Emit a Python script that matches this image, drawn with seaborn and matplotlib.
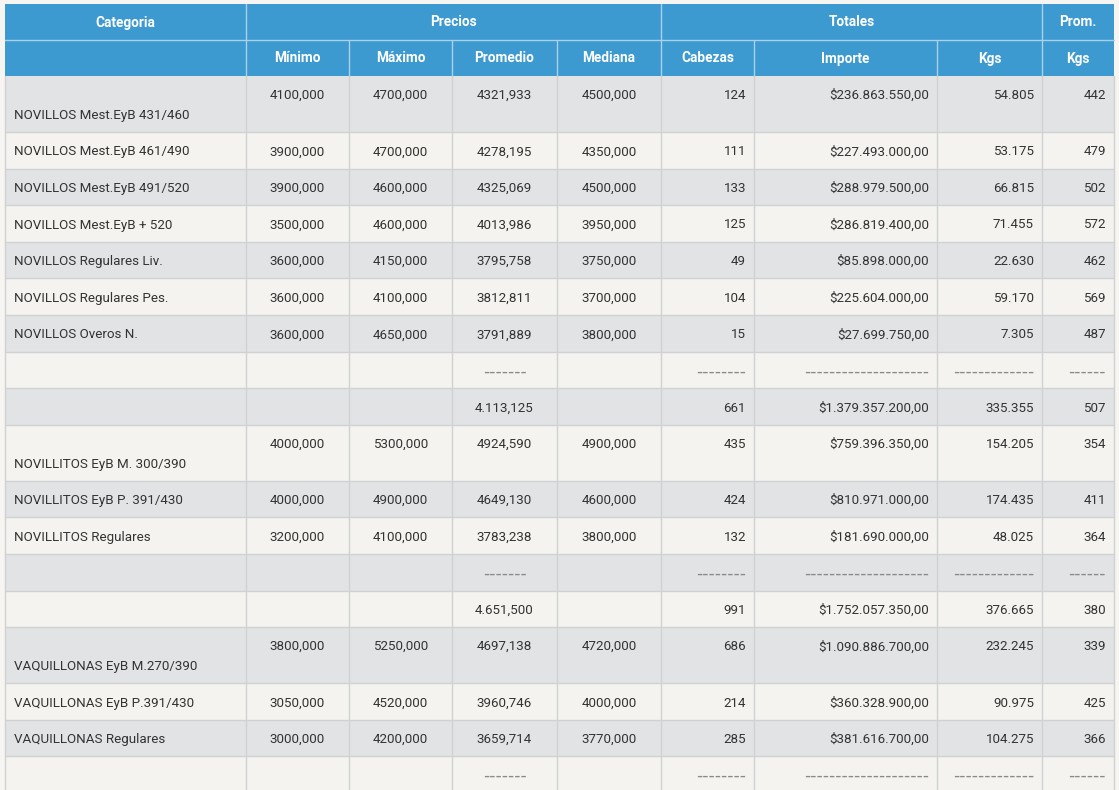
import numpy as np
import pandas as pd
import seaborn as sns
import matplotlib.pyplot as plt

# table data, one list per column
categoria = ["NOVILLOS Mest.EyB 431/460", "NOVILLOS Mest.EyB 461/490", "NOVILLOS Mest.EyB 491/520",
             "NOVILLOS Mest.EyB + 520", "NOVILLOS Regulares Liv.", "NOVILLOS Regulares Pes.",
             "NOVILLOS Overos N.", "", "", "NOVILLITOS EyB M. 300/390", "NOVILLITOS EyB P. 391/430",
             "NOVILLITOS Regulares", "", "", "VAQUILLONAS EyB M.270/390", "VAQUILLONAS EyB P.391/430",
             "VAQUILLONAS Regulares", ""]
minimo = ["4100,000", "3900,000", "3900,000", "3500,000", "3600,000", "3600,000", "3600,000", "", "",
          "4000,000", "4000,000", "3200,000", "", "", "3800,000", "3050,000", "3000,000", ""]
maximo = ["4700,000", "4700,000", "4600,000", "4600,000", "4150,000", "4100,000", "4650,000", "", "",
          "5300,000", "4900,000", "4100,000", "", "", "5250,000", "4520,000", "4200,000", ""]
promedio = ["4321,933", "4278,195", "4325,069", "4013,986", "3795,758", "3812,811", "3791,889", "-------",
            "4.113,125", "4924,590", "4649,130", "3783,238", "-------", "4.651,500", "4697,138", "3960,746",
            "3659,714", "-------"]
mediana = ["4500,000", "4350,000", "4500,000", "3950,000", "3750,000", "3700,000", "3800,000", "", "",
           "4900,000", "4600,000", "3800,000", "", "", "4720,000", "4000,000", "3770,000", ""]
cabezas = ["124", "111", "133", "125", "49", "104", "15", "--------", "661", "435", "424", "132", "--------",
           "991", "686", "214", "285", "--------"]
importe = ["$236.863.550,00", "$227.493.000,00", "$288.979.500,00", "$286.819.400,00", "$85.898.000,00",
           "$225.604.000,00", "$27.699.750,00", "--------------------", "$1.379.357.200,00",
           "$759.396.350,00", "$810.971.000,00", "$181.690.000,00", "--------------------",
           "$1.752.057.350,00", "$1.090.886.700,00", "$360.328.900,00", "$381.616.700,00",
           "--------------------"]
kgs = ["54.805", "53.175", "66.815", "71.455", "22.630", "59.170", "7.305", "-------------", "335.355",
       "154.205", "174.435", "48.025", "-------------", "376.665", "232.245", "90.975", "104.275",
       "-------------"]
prom_kgs = ["442", "479", "502", "572", "462", "569", "487", "------", "507", "354", "411", "364", "------",
            "380", "339", "425", "366", "------"]

group_headers = ["Categoria", "Precios", "Totales", "Prom."]
sub_headers = ["", "Mínimo", "Máximo", "Promedio", "Mediana", "Cabezas", "Importe", "Kgs", "Kgs"]

df = pd.DataFrame({"Categoria": categoria, "Mínimo": minimo, "Máximo": maximo, "Promedio": promedio,
                   "Mediana": mediana, "Cabezas": cabezas, "Importe": importe, "Kgs": kgs,
                   "Prom. Kgs": prom_kgs})

sns.set_theme(style="white")
plt.rcParams['font.family'] = ['Roboto', 'DejaVu Sans']

BLUE = "#3d9ad0"
GRAY_ROW = "#e1e3e5"
LIGHT_ROW = "#f4f3ef"
BG = "#f6f5f1"
TEXT = "#333333"
LINE = "#cfd1d3"

fig = plt.figure(figsize=(11.19, 7.90), dpi=100, facecolor=BG)
ax = fig.add_axes([0, 0, 1, 1])
ax.set_xlim(0, 1119)
ax.set_ylim(790, 0)
ax.axis("off")

col_edges = [5, 246, 349, 452, 557, 661, 754, 937, 1042, 1114]
align = ["left", "center", "center", "center", "center", "right", "right", "right", "right"]
fs = 9.6

# header
h_top, h_mid, h_bot = 4, 40, 76
ax.fill_between([col_edges[0], col_edges[-1]], h_top, h_bot, color=BLUE, lw=0)
span_groups = [(0, 1), (1, 5), (5, 8), (8, 9)]
for (a, b), label in zip(span_groups, group_headers):
    xc = (col_edges[a] + col_edges[b]) / 2
    ax.text(xc, (h_top + h_mid) / 2 + 0.5, label, ha="center", va="center", color="white",
            fontsize=9.8, fontweight="bold")
    if a > 0:
        ax.plot([col_edges[a]] * 2, [h_top, h_mid], color="#a9d1ec", lw=1)
ax.plot([col_edges[0], col_edges[-1]], [h_mid, h_mid], color="#a9d1ec", lw=1)
for j, label in enumerate(sub_headers):
    xc = (col_edges[j] + col_edges[j + 1]) / 2
    if label:
        ax.text(xc, (h_mid + h_bot) / 2 + 0.5, label, ha="center", va="center", color="white",
                fontsize=9.8, fontweight="bold")
    if j > 0:
        ax.plot([col_edges[j]] * 2, [h_mid, h_bot], color="#a9d1ec", lw=1)

# body rows
tall = [c.startswith(("NOVILLOS Mest.EyB 431", "NOVILLITOS EyB M.", "VAQUILLONAS EyB M.")) for c in categoria]
normal_h = 36.6
tall_h = 56
y = h_bot
for i, row in df.iterrows():
    h = tall_h if tall[i] else normal_h
    ax.fill_between([col_edges[0], col_edges[-1]], y, y + h,
                    color=GRAY_ROW if i % 2 == 0 else LIGHT_ROW, lw=0)
    ax.plot([col_edges[0], col_edges[-1]], [y + h, y + h], color=LINE, lw=1)
    for j, val in enumerate(row.values):
        if not val:
            continue
        if align[j] == "left":
            x = col_edges[j] + 9
        elif align[j] == "right":
            x = col_edges[j + 1] - 8
        else:
            x = (col_edges[j] + col_edges[j + 1]) / 2
        if tall[i]:
            ty = y + 39.5 if j == 0 else y + 19.5
        else:
            ty = y + h / 2 + 1.5
        if val.startswith("-"):
            # separator dashes, drawn wide like the source font
            ax.text(x, ty, val, ha=align[j], va="center", color="#8a8a8a", fontsize=12.3,
                    family="DejaVu Sans")
        else:
            ax.text(x, ty, val, ha=align[j], va="center", color=TEXT, fontsize=fs)
    y += h

for x in col_edges:
    ax.plot([x, x], [h_bot, 790], color=LINE, lw=1)

fig.savefig("out.png", dpi=100, facecolor=BG)
